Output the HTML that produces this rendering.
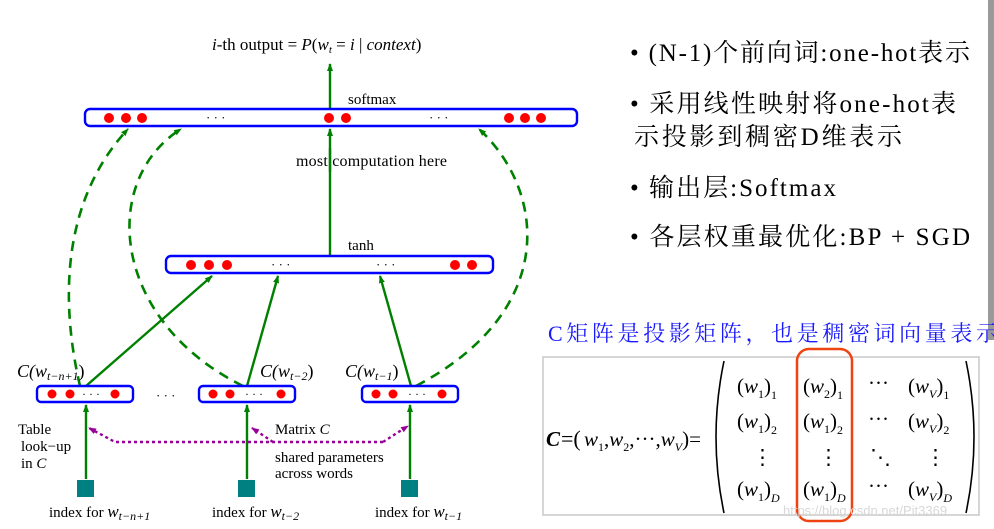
<!DOCTYPE html>
<html><head><meta charset="utf-8"><style>
html,body{margin:0;padding:0;background:#fff;}
body{width:994px;height:529px;overflow:hidden;position:relative;}
svg{position:absolute;left:0;top:0;}
.t{font-family:"Liberation Serif",serif;fill:#000;}
.cj{font-family:"Liberation Serif","Noto Serif CJK SC",serif;fill:#000;}
</style></head><body>
<svg width="994" height="529" viewBox="0 0 994 529" xmlns="http://www.w3.org/2000/svg">
<defs>
<marker id="ag" markerWidth="8" markerHeight="8" refX="7" refY="4" orient="auto" markerUnits="userSpaceOnUse">
<path d="M0,1 L8,4 L0,7 z" fill="#008000"/></marker>
<marker id="ap" markerWidth="8" markerHeight="8" refX="7" refY="4" orient="auto" markerUnits="userSpaceOnUse">
<path d="M0,1 L8,4 L0,7 z" fill="#990099"/></marker>
</defs>
<rect x="988" y="0" width="6" height="352" fill="#9a9a9a"/>

<text x="212" y="50" class="t" font-size="17"><tspan font-style="italic">i</tspan>-th output = <tspan font-style="italic">P</tspan>(<tspan font-style="italic">w</tspan><tspan font-style="italic" font-size="11" dy="3">t</tspan><tspan dy="-3"> = </tspan><tspan font-style="italic">i</tspan> | <tspan font-style="italic">context</tspan>)</text>

<g stroke="#008000" stroke-width="2.4" fill="none">
<line x1="330" y1="109" x2="330" y2="64" marker-end="url(#ag)"/>
<line x1="330" y1="256" x2="330" y2="129" marker-end="url(#ag)"/>
<line x1="86" y1="386" x2="212" y2="276" marker-end="url(#ag)"/>
<line x1="247" y1="386" x2="278" y2="276" marker-end="url(#ag)"/>
<line x1="411" y1="386" x2="380" y2="276" marker-end="url(#ag)"/>
<line x1="86" y1="479" x2="86" y2="405" marker-end="url(#ag)"/>
<line x1="247" y1="479" x2="247" y2="405" marker-end="url(#ag)"/>
<line x1="410" y1="479" x2="410" y2="405" marker-end="url(#ag)"/>
</g>
<g stroke="#008000" stroke-width="2.6" fill="none" stroke-dasharray="10,7">
<path d="M80,386 C60,300 62,200 128,129" marker-end="url(#ag)"/>
<path d="M243,386 C110,320 100,180 181,129" marker-end="url(#ag)"/>
<path d="M416,386 C560,310 545,190 479,129" marker-end="url(#ag)"/>
</g>

<rect x="85" y="109" width="492" height="17" rx="5" fill="#fff" stroke="#0000ff" stroke-width="2.4"/>
<g fill="#ff0000">
<circle cx="109" cy="118" r="5"/><circle cx="126" cy="118" r="5"/><circle cx="142" cy="118" r="5"/>
<circle cx="329" cy="118" r="5"/><circle cx="346" cy="118" r="5"/>
<circle cx="509" cy="118" r="5"/><circle cx="525" cy="118" r="5"/><circle cx="541" cy="118" r="5"/>
</g>
<text x="206" y="122" class="t" font-size="13">· · ·</text>
<text x="429" y="122" class="t" font-size="13">· · ·</text>
<text x="348" y="104" class="t" font-size="15">softmax</text>
<rect x="320" y="150" width="20" height="1" fill="none"/>
<text x="296" y="166" class="t" font-size="16" textLength="151">most  computation here</text>
<line x1="330" y1="148" x2="330" y2="172" stroke="#008000" stroke-width="2.4"/>

<rect x="166" y="256" width="327" height="17" rx="5" fill="#fff" stroke="#0000ff" stroke-width="2.4"/>
<g fill="#ff0000">
<circle cx="191" cy="265" r="5"/><circle cx="209" cy="265" r="5"/><circle cx="227" cy="265" r="5"/>
<circle cx="455" cy="265" r="5"/><circle cx="472" cy="265" r="5"/>
</g>
<text x="271" y="269" class="t" font-size="13">· · ·</text>
<text x="376" y="269" class="t" font-size="13">· · ·</text>
<text x="348" y="250" class="t" font-size="15">tanh</text>

<g fill="#fff" stroke="#0000ff" stroke-width="2.4">
<rect x="37" y="386" width="96" height="16" rx="4"/>
<rect x="199" y="386" width="96" height="16" rx="4"/>
<rect x="362" y="386" width="96" height="16" rx="4"/>
</g>
<g fill="#ff0000">
<circle cx="52" cy="394" r="4.5"/><circle cx="70" cy="394" r="4.5"/><circle cx="115" cy="394" r="4.5"/>
<circle cx="213" cy="394" r="4.5"/><circle cx="230" cy="394" r="4.5"/><circle cx="281" cy="394" r="4.5"/>
<circle cx="376" cy="394" r="4.5"/><circle cx="393" cy="394" r="4.5"/><circle cx="442" cy="394" r="4.5"/>
</g>
<text x="82" y="398" class="t" font-size="12">· · ·</text>
<text x="245" y="398" class="t" font-size="12">· · ·</text>
<text x="408" y="398" class="t" font-size="12">· · ·</text>
<text x="156" y="400" class="t" font-size="13">· · ·</text>

<g class="t" font-size="18" font-style="italic">
<text x="17" y="377">C(w<tspan font-size="12" dy="3">t−n+1</tspan><tspan dy="-3" font-style="normal">)</tspan></text>
<text x="260" y="377">C(w<tspan font-size="12" dy="3">t−2</tspan><tspan dy="-3" font-style="normal">)</tspan></text>
<text x="345" y="377">C(w<tspan font-size="12" dy="3">t−1</tspan><tspan dy="-3" font-style="normal">)</tspan></text>
</g>

<g stroke="#990099" stroke-width="2.4" fill="none" stroke-dasharray="3,3">
<path d="M383,442 L115,442 L89,428" marker-end="url(#ap)"/>
<path d="M273,442 L252,428" marker-end="url(#ap)"/>
<path d="M383,442 L408,426" marker-end="url(#ap)"/>
</g>
<g class="t" font-size="15">
<text x="18" y="434">Table</text>
<text x="21" y="451">look−up</text>
<text x="21" y="468">in <tspan font-style="italic">C</tspan></text>
<text x="275" y="434">Matrix <tspan font-style="italic">C</tspan></text>
<text x="275" y="462">shared parameters</text>
<text x="275" y="478">across words</text>
</g>

<g fill="#008080">
<rect x="77" y="480" width="17" height="17"/>
<rect x="238" y="480" width="17" height="17"/>
<rect x="401" y="480" width="17" height="17"/>
</g>
<g class="t" font-size="15">
<text x="49" y="517">index for <tspan font-style="italic" font-size="17">w</tspan><tspan font-style="italic" font-size="12" dy="3">t−n+1</tspan></text>
<text x="212" y="517">index for <tspan font-style="italic" font-size="17">w</tspan><tspan font-style="italic" font-size="12" dy="3">t−2</tspan></text>
<text x="375" y="517">index for <tspan font-style="italic" font-size="17">w</tspan><tspan font-style="italic" font-size="12" dy="3">t−1</tspan></text>
</g>

<g class="cj" font-size="25">
<text x="630" y="61" textLength="340" lengthAdjust="spacing">• (N-1)个前向词:one-hot表示</text>
<text x="630" y="112" textLength="326" lengthAdjust="spacing">• 采用线性映射将one-hot表</text>
<text x="634" y="145" textLength="268" lengthAdjust="spacing">示投影到稠密D维表示</text>
<text x="630" y="196" textLength="206" lengthAdjust="spacing">• 输出层:Softmax</text>
<text x="630" y="245" textLength="340" lengthAdjust="spacing">• 各层权重最优化:BP + SGD</text>
</g>
<text x="548" y="341" font-family="Liberation Serif,'Noto Serif CJK SC',serif" font-size="22" fill="#1a1aff" textLength="450" lengthAdjust="spacing">C矩阵是投影矩阵，也是稠密词向量表示</text>

<rect x="543" y="357" width="436" height="158" fill="#fff" stroke="#c8c8c8" stroke-width="1.5"/>
<rect x="988" y="340" width="6" height="20" fill="#fff"/>
<g font-family="Liberation Serif,serif" font-style="italic" font-size="21" fill="#000">
<text x="546" y="446" font-weight="bold">C</text>
<text x="561" y="446" font-style="normal" font-size="22">=(</text>
<text x="584" y="446">w<tspan font-size="12" dy="5" font-style="normal">1</tspan><tspan dy="-5" font-style="normal">,</tspan>w<tspan font-size="12" dy="5" font-style="normal">2</tspan><tspan dy="-5" font-style="normal">,···,</tspan>w<tspan font-size="12" dy="5">V</tspan><tspan dy="-5" font-style="normal">)=</tspan></text>
</g>
<path d="M724,361 Q708,437 724,513" stroke="#000" stroke-width="1.6" fill="none"/>
<path d="M966,361 Q982,437 966,513" stroke="#000" stroke-width="1.6" fill="none"/>
<g font-family="Liberation Serif,serif" font-size="21" fill="#000">
<text x="737" y="393">(<tspan font-style="italic">w</tspan><tspan font-size="12" dy="5">1</tspan><tspan dy="-5">)</tspan><tspan font-size="12" dy="6">1</tspan></text>
<text x="803" y="393">(<tspan font-style="italic">w</tspan><tspan font-size="12" dy="5">2</tspan><tspan dy="-5">)</tspan><tspan font-size="12" dy="6">1</tspan></text>
<text x="868" y="390">···</text>
<text x="908" y="393">(<tspan font-style="italic">w</tspan><tspan font-size="12" dy="5" font-style="italic">V</tspan><tspan dy="-5">)</tspan><tspan font-size="12" dy="6">1</tspan></text>
<text x="737" y="428">(<tspan font-style="italic">w</tspan><tspan font-size="12" dy="5">1</tspan><tspan dy="-5">)</tspan><tspan font-size="12" dy="6">2</tspan></text>
<text x="803" y="428">(<tspan font-style="italic">w</tspan><tspan font-size="12" dy="5">1</tspan><tspan dy="-5">)</tspan><tspan font-size="12" dy="6">2</tspan></text>
<text x="868" y="426">···</text>
<text x="908" y="428">(<tspan font-style="italic">w</tspan><tspan font-size="12" dy="5" font-style="italic">V</tspan><tspan dy="-5">)</tspan><tspan font-size="12" dy="6">2</tspan></text>
<text x="752" y="464">⋮</text><text x="818" y="464">⋮</text><text x="870" y="464">⋱</text><text x="925" y="464">⋮</text>
<text x="737" y="496">(<tspan font-style="italic">w</tspan><tspan font-size="12" dy="5">1</tspan><tspan dy="-5">)</tspan><tspan font-size="12" dy="6" font-style="italic">D</tspan></text>
<text x="803" y="496">(<tspan font-style="italic">w</tspan><tspan font-size="12" dy="5">1</tspan><tspan dy="-5">)</tspan><tspan font-size="12" dy="6" font-style="italic">D</tspan></text>
<text x="868" y="493">···</text>
<text x="908" y="496">(<tspan font-style="italic">w</tspan><tspan font-size="12" dy="5" font-style="italic">V</tspan><tspan dy="-5">)</tspan><tspan font-size="12" dy="6" font-style="italic">D</tspan></text>
</g>
<rect x="797" y="349" width="55" height="172" rx="12" fill="none" stroke="#ee4411" stroke-width="2.5"/>
<text x="783" y="515" font-family="Liberation Sans,sans-serif" font-size="13" fill="#d8d8d8">https://blog.csdn.net/Pit3369</text>
</svg>
</body></html>
